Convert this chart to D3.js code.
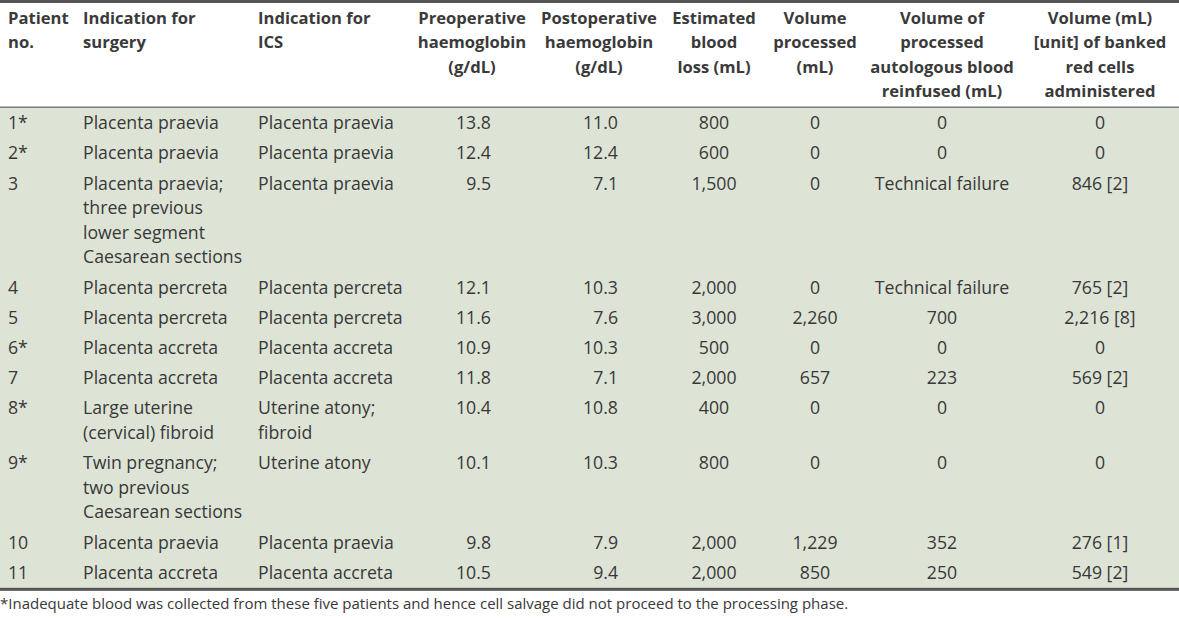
<!DOCTYPE html>
<html>
<head>
<meta charset="utf-8">
<script src="https://cdn.jsdelivr.net/npm/d3@7"></script>
<style>
  html, body { margin: 0; padding: 0; background: #ffffff; }
  svg { display: block; }
</style>
</head>
<body>
<svg id="chart" width="1179" height="618"></svg>
<script>
// ---- Data ----
const headers = [
  ["Patient", "no."],
  ["Indication for", "surgery"],
  ["Indication for", "ICS"],
  ["Preoperative", "haemoglobin", "(g/dL)"],
  ["Postoperative", "haemoglobin", "(g/dL)"],
  ["Estimated", "blood", "loss (mL)"],
  ["Volume", "processed", "(mL)"],
  ["Volume of", "processed", "autologous blood", "reinfused (mL)"],
  ["Volume (mL)", "[unit] of banked", "red cells", "administered"]
];
const patientNo = ["1*", "2*", "3", "4", "5", "6*", "7", "8*", "9*", "10", "11"];
const surgeryIndication = [
  ["Placenta praevia"],
  ["Placenta praevia"],
  ["Placenta praevia;", "three previous", "lower segment", "Caesarean sections"],
  ["Placenta percreta"],
  ["Placenta percreta"],
  ["Placenta accreta"],
  ["Placenta accreta"],
  ["Large uterine", "(cervical) fibroid"],
  ["Twin pregnancy;", "two previous", "Caesarean sections"],
  ["Placenta praevia"],
  ["Placenta accreta"]
];
const icsIndication = [
  ["Placenta praevia"],
  ["Placenta praevia"],
  ["Placenta praevia"],
  ["Placenta percreta"],
  ["Placenta percreta"],
  ["Placenta accreta"],
  ["Placenta accreta"],
  ["Uterine atony;", "fibroid"],
  ["Uterine atony"],
  ["Placenta praevia"],
  ["Placenta accreta"]
];
const preHb = ["13.8", "12.4", "9.5", "12.1", "11.6", "10.9", "11.8", "10.4", "10.1", "9.8", "10.5"];
const postHb = ["11.0", "12.4", "7.1", "10.3", "7.6", "10.3", "7.1", "10.8", "10.3", "7.9", "9.4"];
const bloodLoss = ["800", "600", "1,500", "2,000", "3,000", "500", "2,000", "400", "800", "2,000", "2,000"];
const volProcessed = ["0", "0", "0", "0", "2,260", "0", "657", "0", "0", "1,229", "850"];
const reinfused = ["0", "0", "Technical failure", "Technical failure", "700", "0", "223", "0", "0", "352", "250"];
const banked = ["0", "0", "846 [2]", "765 [2]", "2,216 [8]", "0", "569 [2]", "0", "0", "276 [1]", "549 [2]"];
const footnote = "*Inadequate blood was collected from these five patients and hence cell salvage did not proceed to the processing phase.";

// ---- Layout ----
const W = 1179;
const FONT = "'Open Sans', sans-serif";
const textColor = "#383838";
const bodyBg = "#dde4d6";
const borderColor = "#555555";

const colKeys = d3.range(headers.length);
const colX = d3.scaleOrdinal().domain(colKeys).range([8, 83, 258, 472, 599, 714, 815, 942, 1100]);
const headAnchor = d3.scaleOrdinal().domain(colKeys).range(["start","start","start","middle","middle","middle","middle","middle","middle"]);
const valX = d3.scaleOrdinal().domain(colKeys).range([8, 83, 258, 491, 618, 714, 815, 942, 1100]);
const valAnchor = d3.scaleOrdinal().domain(colKeys).range(["start","start","start","end","end","middle","middle","middle","middle"]);

const headBottom = 107;
const lineH = 24.6, rowPad = 5.6;
const headLineY = d3.scaleLinear().domain([0, 1]).range([23.8, 23.8 + 24.4]);

const rows = patientNo.map((p, i) => {
  const cells = [[p], surgeryIndication[i], icsIndication[i], [preHb[i]], [postHb[i]],
                 [bloodLoss[i]], [volProcessed[i]], [reinfused[i]], [banked[i]]];
  const n = d3.max(cells, c => c.length);
  return { cells, n };
});
let acc = headBottom + 1;
rows.forEach(r => { r.top = acc; r.h = rowPad + r.n * lineH; acc += r.h; });
const bodyBottom = acc;

const svg = d3.select("#chart");

svg.append("rect").attr("x", 0).attr("y", headBottom).attr("width", W)
  .attr("height", bodyBottom - headBottom).attr("fill", bodyBg);
svg.append("rect").attr("x", 0).attr("y", 0).attr("width", W).attr("height", 3).attr("fill", borderColor);
svg.append("rect").attr("x", 0).attr("y", headBottom - 0.5).attr("width", W).attr("height", 1.5).attr("fill", "#7a7a7a");
svg.append("rect").attr("x", 0).attr("y", bodyBottom).attr("width", W).attr("height", 3).attr("fill", borderColor);

const hg = svg.append("g").attr("font-family", FONT).attr("font-size", 16.6)
  .attr("font-weight", 700).attr("fill", "#3a3a3a");
colKeys.forEach(k => {
  const t = hg.append("text").attr("text-anchor", headAnchor(k));
  headers[k].forEach((line, j) => {
    t.append("tspan").attr("x", colX(k)).attr("y", headLineY(j)).text(line);
  });
});

const bg = svg.append("g").attr("font-family", FONT).attr("font-size", 17.7).attr("fill", textColor);
rows.forEach(r => {
  r.cells.forEach((lines, k) => {
    const t = bg.append("text").attr("text-anchor", valAnchor(k));
    lines.forEach((line, j) => {
      t.append("tspan").attr("x", valX(k))
        .attr("y", r.top + rowPad / 2 + lineH / 2 + 6 + j * lineH).text(line);
    });
  });
});

svg.append("text").attr("x", 0).attr("y", bodyBottom + 21)
  .attr("font-family", FONT).attr("font-size", 15).attr("fill", textColor)
  .text(footnote);
</script>
</body>
</html>
